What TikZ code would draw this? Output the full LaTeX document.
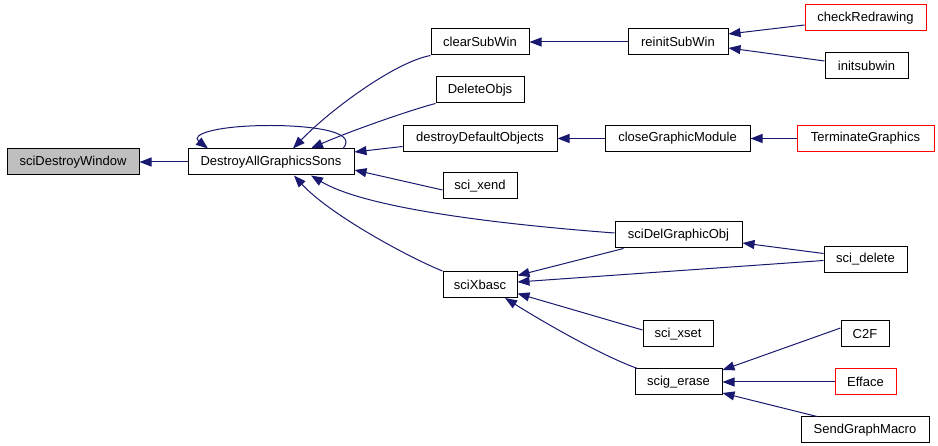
\documentclass[tikz,border=0pt]{standalone}
\usepackage{fontspec}
\setmainfont{Liberation Sans}
\usetikzlibrary{arrows.meta}
\definecolor{edgeblue}{HTML}{191970}
\definecolor{boxgray}{HTML}{BFBFBF}
\definecolor{boxred}{HTML}{FF0000}
\tikzset{
  fn/.style={draw=black, line width=1pt, fill=white, minimum height=26pt, inner sep=0pt,
    font=\fontsize{13}{15}\selectfont},
  fnred/.style={fn, draw=boxred},
  fngray/.style={fn, fill=boxgray},
  edge/.style={draw=edgeblue, line width=1pt, -{Triangle[length=12pt,width=9pt]}},
}
\begin{document}
\begin{tikzpicture}[x=1pt,y=-1pt]
\useasboundingbox[fill=white] (0,0) rectangle (938,446);
% nodes
\node[fngray, minimum width=132pt] (sdw) at (73,162) {sciDestroyWindow};
\node[fn, minimum width=166pt] (dags) at (271,162) {DestroyAllGraphicsSons};
\node[fn, minimum width=98pt] (csw) at (480,42) {clearSubWin};
\node[fn, minimum width=88pt] (dobj) at (480,90) {DeleteObjs};
\node[fn, minimum width=154pt] (ddo) at (480,138.5) {destroyDefaultObjects};
\node[fn, minimum width=74pt] (xend) at (480,186) {sci\_xend};
\node[fn, minimum width=127pt] (sdgo) at (678.5,235) {sciDelGraphicObj};
\node[fn, minimum width=74pt] (xbasc) at (480,284.5) {sciXbasc};
\node[fn, minimum width=100pt] (rsw) at (678,42) {reinitSubWin};
\node[fn, minimum width=145pt] (cgm) at (677.5,138.5) {closeGraphicModule};
\node[fn, minimum width=70pt] (xset) at (678,334) {sci\_xset};
\node[fn, minimum width=87pt] (sge) at (678.5,382) {scig\_erase};
\node[fnred, minimum width=121pt] (crd) at (865.5,18) {checkRedrawing};
\node[fn, minimum width=83pt] (isw) at (866.5,66) {initsubwin};
\node[fnred, minimum width=137pt] (tg) at (865.5,138.5) {TerminateGraphics};
\node[fn, minimum width=83pt] (sdel) at (865.5,259.5) {sci\_delete};
\node[fn, minimum width=48pt] (c2f) at (865,334) {C2F};
\node[fnred, minimum width=61pt] (eff) at (865.5,382) {Efface};
\node[fn, minimum width=128pt] (sgm) at (865,430) {SendGraphMacro};
% edges
\draw[edge] (dags.west) -- (sdw.east);
\draw[edge] ([xshift=72pt]dags.north) .. controls +(17,-19) and +(30,0) .. ([yshift=23pt]dags.north)
  .. controls +(-55,0) and +(-18,-14) .. ([xshift=-63pt]dags.north);
\draw[edge] (csw.south west) .. controls (395,62) and (330,110) .. ([xshift=22pt]dags.north);
\draw[edge] (dobj.south west) .. controls (410,110) and (345,133) .. ([xshift=40pt]dags.north);
\draw[edge] ([yshift=-8pt]ddo.west) -- ([yshift=10pt]dags.east);
\draw[edge] ([yshift=-4pt]xend.west) -- ([yshift=-8pt]dags.east);
\draw[edge] ([yshift=2pt]sdgo.west) .. controls (470,222) and (360,205) .. ([xshift=40pt]dags.south);
\draw[edge] (xbasc.north west) .. controls (410,258) and (330,215) .. ([xshift=23pt]dags.south);
\draw[edge] (rsw.west) -- (csw.east);
\draw[edge] ([yshift=-7pt]crd.west) -- ([yshift=8pt]rsw.east);
\draw[edge] ([yshift=5pt]isw.west) -- ([yshift=-6pt]rsw.east);
\draw[edge] (cgm.west) -- (ddo.east);
\draw[edge] (tg.west) -- (cgm.east);
\draw[edge] ([yshift=6pt]sdel.west) -- ([yshift=-8pt]sdgo.east);
\draw[edge] ([xshift=-55pt]sdgo.south) -- ([yshift=9pt]xbasc.east);
\draw[edge] ([yshift=-1pt]sdel.west) -- ([yshift=2.5pt]xbasc.east);
\draw[edge] ([yshift=4pt]xset.west) -- ([yshift=-9pt]xbasc.east);
\draw[edge] ([xshift=-41pt]sge.north) .. controls (600,355) and (540,320) .. ([xshift=25pt]xbasc.south);
\draw[edge] ([yshift=6pt]c2f.west) -- ([yshift=12pt]sge.east);
\draw[edge] (eff.west) -- (sge.east);
\draw[edge] ([xshift=-48pt]sgm.north) -- ([yshift=-11pt]sge.east);
\end{tikzpicture}
\end{document}
